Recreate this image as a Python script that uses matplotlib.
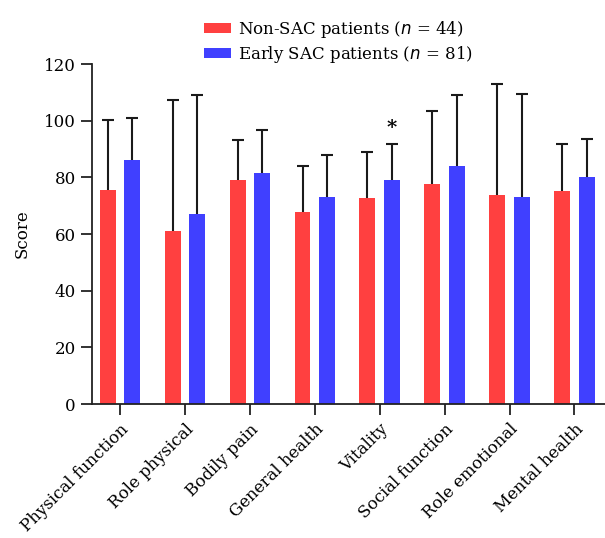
"""SF-36 domain scores: non-SAC vs early SAC patients."""

import matplotlib

matplotlib.use("Agg")
import matplotlib.pyplot as plt
import numpy as np

plt.rcParams["font.family"] = ["DejaVu Serif"]

domains = [
    "Physical function",
    "Role physical",
    "Bodily pain",
    "General health",
    "Vitality",
    "Social function",
    "Role emotional",
    "Mental health",
]
non_sac_mean = [75.6, 61.0, 79.0, 67.7, 72.6, 77.8, 73.6, 75.1]
non_sac_sd = [24.8, 46.2, 14.1, 16.3, 16.5, 25.5, 39.2, 16.8]
early_sac_mean = [86.0, 67.1, 81.4, 73.0, 79.2, 83.9, 73.0, 80.2]
early_sac_sd = [14.8, 42.1, 15.4, 14.8, 12.4, 25.0, 36.4, 13.2]
significant = ["Vitality"]

RED = "#FF4040"
BLUE = "#4040FF"

fig = plt.figure(figsize=(6.05, 5.38), dpi=100)
ax = fig.add_axes([0.152, 0.249, 0.848, 0.632])

x = np.arange(len(domains))
offset = 0.188
width = 0.246

for xs, mean, sd, color, label in [
    (x - offset, non_sac_mean, non_sac_sd, RED, "Non-SAC patients ($n$ = 44)"),
    (x + offset, early_sac_mean, early_sac_sd, BLUE, "Early SAC patients ($n$ = 81)"),
]:
    ax.bar(xs, mean, width=width, color=color, label=label, zorder=2)
    _, caps, _ = ax.errorbar(
        xs, mean, yerr=[np.zeros(len(sd)), sd], fmt="none", ecolor="#1a1a1a",
        elinewidth=1.5, capsize=4, capthick=1.5, zorder=3,
    )
    caps[0].set_visible(False)  # one-sided error bars

# significance marker
for name in significant:
    i = domains.index(name)
    ax.text(i + offset, early_sac_mean[i] + early_sac_sd[i] + 2.5, "*",
            ha="center", va="bottom", fontsize=14, fontweight="bold")

ax.set_ylim(0, 120)
ax.set_xlim(-0.43, len(domains) - 0.53)
ax.set_yticks(range(0, 121, 20))
ax.set_xticks(x)
ax.set_xticklabels(domains, rotation=45, ha="right", rotation_mode="anchor")
ax.set_ylabel("Score", fontsize=12, labelpad=10)

for side in ["top", "right"]:
    ax.spines[side].set_visible(False)
for side in ["left", "bottom"]:
    ax.spines[side].set_linewidth(1.3)
    ax.spines[side].set_color("#222222")
ax.tick_params(axis="both", direction="out", length=8, width=1.3,
               color="#222222", labelsize=12)
ax.tick_params(axis="x", pad=4)

fig.legend(
    loc="upper left", bbox_to_anchor=(0.315, 0.99), frameon=False,
    fontsize=12, handlelength=1.6, handleheight=0.5, handletextpad=0.45,
    labelspacing=0.25, borderaxespad=0.4,
)

fig.savefig("out.png", dpi=100)
